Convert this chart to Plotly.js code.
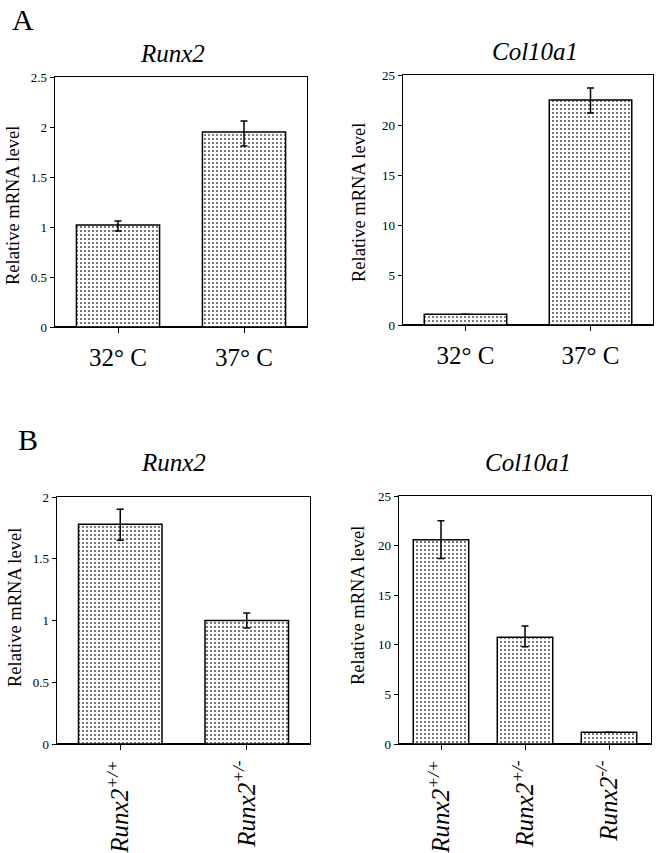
<!DOCTYPE html>
<html>
<head>
<meta charset="utf-8">
<script src="https://cdn.plot.ly/plotly-3.0.1.min.js"></script>
<style>html,body{margin:0;padding:0;background:#fff}#chart{width:658px;height:853px}</style>
</head>
<body>
<div id="chart"></div>
<script>
// ---- Data ----
const tempCategories = ["32° C", "37° C"];
const aRunx2Values = [1.02, 1.95];
const aRunx2ErrPlus = [0.04, 0.11];
const aRunx2ErrMinus = [0.06, 0.14];
const aCol10a1Values = [1.07, 22.5];
const aCol10a1ErrPlus = [0, 1.2];
const aCol10a1ErrMinus = [0, 1.3];

const genoCategoriesB1 = ["Runx2<sup>+/+</sup>", "Runx2<sup>+/-</sup>"];
const bRunx2Values = [1.78, 1.00];
const bRunx2ErrPlus = [0.12, 0.06];
const bRunx2ErrMinus = [0.13, 0.06];
const genoCategoriesB2 = ["Runx2<sup>+/+</sup>", "Runx2<sup>+/-</sup>", "Runx2<sup>-/-</sup>"];
const bCol10a1Values = [20.6, 10.75, 1.18];
const bCol10a1ErrPlus = [1.9, 1.15, 0];
const bCol10a1ErrMinus = [1.9, 0.95, 0];

const yTicksRunx2A = [0, 0.5, 1, 1.5, 2, 2.5];
const yTicksCol = [0, 5, 10, 15, 20, 25];
const yTicksRunx2B = [0, 0.5, 1, 1.5, 2];

// ---- Styling ----
const W = 658, H = 853;
const serif = "Liberation Serif";
function bar(x, y, plus, minus, xa, ya) {
  return {
    type: "bar", x: x, y: y, xaxis: xa, yaxis: ya, width: 0.66,
    marker: {
      color: "white",
      line: {color: "black", width: 1.5},
      pattern: {shape: ".", fgcolor: "#444", bgcolor: "white", size: 4, solidity: 0.18}
    },
    error_y: {type: "data", symmetric: false, array: plus, arrayminus: minus,
              color: "black", thickness: 1.5, width: 3.5},
    showlegend: false, hoverinfo: "skip"
  };
}
function xd(l, r) { return [l / W, r / W]; }
function yd(top, bot) { return [1 - bot / H, 1 - top / H]; }
function xaxis(dom, anchor, angle, italic, standoff) {
  return {
    domain: dom, anchor: anchor, type: "category",
    showline: true, mirror: true, linecolor: "black", linewidth: 1.3,
    ticks: "outside", ticklen: 5, tickwidth: 1, tickcolor: "black",
    tickangle: angle, ticklabelstandoff: standoff,
    tickfont: {family: serif, size: 25, color: "black", style: italic ? "italic" : "normal"},
    showgrid: false, fixedrange: true
  };
}
function yaxis(dom, anchor, range, ticks) {
  return {
    domain: dom, anchor: anchor, range: range,
    tickvals: ticks, ticktext: ticks.map(String),
    showline: true, mirror: true, linecolor: "black", linewidth: 1.3,
    ticks: "outside", ticklen: 4, tickwidth: 1, tickcolor: "black",
    tickfont: {family: serif, size: 13, color: "black"},
    showgrid: false, zeroline: true, zerolinecolor: "black", zerolinewidth: 2.5,
    fixedrange: true
  };
}

const data = [
  bar(tempCategories, aRunx2Values, aRunx2ErrPlus, aRunx2ErrMinus, "x", "y"),
  bar(tempCategories, aCol10a1Values, aCol10a1ErrPlus, aCol10a1ErrMinus, "x2", "y2"),
  bar(genoCategoriesB1, bRunx2Values, bRunx2ErrPlus, bRunx2ErrMinus, "x3", "y3"),
  bar(genoCategoriesB2, bCol10a1Values, bCol10a1ErrPlus, bCol10a1ErrMinus, "x4", "y4")
];

function ann(text, x, y, opts) {
  return Object.assign({text: text, x: x / W, y: 1 - y / H, xref: "paper", yref: "paper",
    showarrow: false, xanchor: "center", yanchor: "middle"}, opts || {});
}
const titleFont = {family: serif, size: 25, color: "black", style: "italic"};
const yTitleFont = {family: serif, size: 18.5, color: "black"};
const letterFont = {family: serif, size: 30, color: "black"};

const layout = {
  width: W, height: H, margin: {l: 0, r: 0, t: 0, b: 0},
  paper_bgcolor: "white", plot_bgcolor: "white",
  xaxis: xaxis(xd(55, 307), "y", 0, false, 3),
  yaxis: yaxis(yd(77, 327), "x", [0, 2.5], yTicksRunx2A),
  xaxis2: xaxis(xd(403, 653), "y2", 0, false, 3),
  yaxis2: yaxis(yd(75, 325), "x2", [0, 25], yTicksCol),
  xaxis3: xaxis(xd(57, 310), "y3", -90, true, 0),
  yaxis3: yaxis(yd(497, 744), "x3", [0, 2], yTicksRunx2B),
  xaxis4: xaxis(xd(399, 651), "y4", -90, true, 0),
  yaxis4: yaxis(yd(496, 744), "x4", [0, 25], yTicksCol),
  annotations: [
    ann("A", 10, 19, {xanchor: "left", font: letterFont}),
    ann("B", 16, 440, {xanchor: "left", font: letterFont}),
    ann("Runx2", 172, 53, {font: titleFont}),
    ann("Col10a1", 535, 52, {font: titleFont}),
    ann("Runx2", 173, 462, {font: titleFont}),
    ann("Col10a1", 528, 462, {font: titleFont}),
    ann("Relative mRNA level", 13, 206, {textangle: -90, font: yTitleFont}),
    ann("Relative mRNA level", 359, 203, {textangle: -90, font: yTitleFont}),
    ann("Relative mRNA level", 15, 608, {textangle: -90, font: yTitleFont}),
    ann("Relative mRNA level", 358, 606, {textangle: -90, font: yTitleFont})
  ]
};

Plotly.newPlot("chart", data, layout, {staticPlot: true, displayModeBar: false});
</script>
</body>
</html>
